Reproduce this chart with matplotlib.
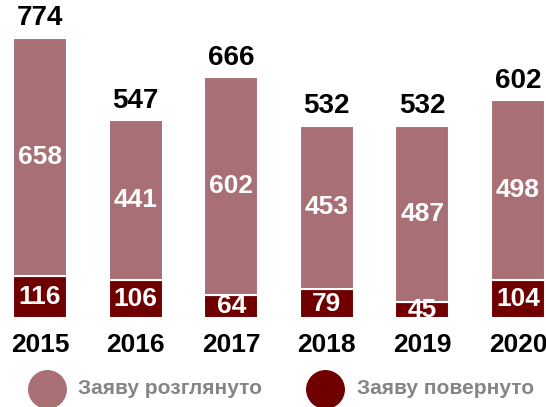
import matplotlib.pyplot as plt
import numpy as np
from matplotlib.lines import Line2D

# Data
years = ['2015', '2016', '2017', '2018', '2019', '2020']
reviewed = [658, 441, 602, 453, 487, 498]   # Заяву розглянуто
returned = [116, 106, 64, 79, 45, 104]      # Заяву повернуто
legend_labels = ['Заяву розглянуто', 'Заяву повернуто']

plt.rcParams['font.family'] = ['Liberation Sans', 'DejaVu Sans']

COL_TOP = '#a87074'
COL_BOT = '#700000'

W, H = 546, 407
fig = plt.figure(figsize=(W / 100, H / 100), dpi=100)
ax = fig.add_axes([0, 1 - 318 / H, 1, 318 / H])

x = np.arange(len(years))
totals = [a + b for a, b in zip(reviewed, returned)]

ax.bar(x, returned, width=0.565, color=COL_BOT, edgecolor='white', linewidth=1.5)
ax.bar(x, reviewed, bottom=returned, width=0.565, color=COL_TOP, edgecolor='white', linewidth=1.5)

for i in range(len(years)):
    ax.text(x[i], returned[i] / 2, str(returned[i]), ha='center', va='center',
            color='white', fontsize=19, fontweight='bold')
    ax.text(x[i], returned[i] + reviewed[i] / 2, str(reviewed[i]), ha='center', va='center',
            color='white', fontsize=19, fontweight='bold')
    ax.text(x[i], totals[i] + 18, str(totals[i]), ha='center', va='bottom',
            color='black', fontsize=20, fontweight='bold')
    ax.text(x[i], -75, years[i], ha='center', va='center',
            color='black', fontsize=19, fontweight='bold', clip_on=False)

ax.set_xlim(-40 / 95.6, (W - 40) / 95.6)
ax.set_ylim(0, 879)
ax.axis('off')

# legend drawn by hand in pixel positions
leg_y = 1 - 389 / H
for (cx, tx), col, lab in zip([(47, 78), (325, 357)], [COL_TOP, COL_BOT], legend_labels):
    fig.add_artist(Line2D([cx / W], [leg_y], marker='o', markersize=27,
                          color=col, linestyle='none', transform=fig.transFigure))
    fig.text(tx / W, leg_y, lab, ha='left', va='center', color='#858585',
             fontsize=15, fontweight='bold')

fig.savefig('out.png', dpi=100)
